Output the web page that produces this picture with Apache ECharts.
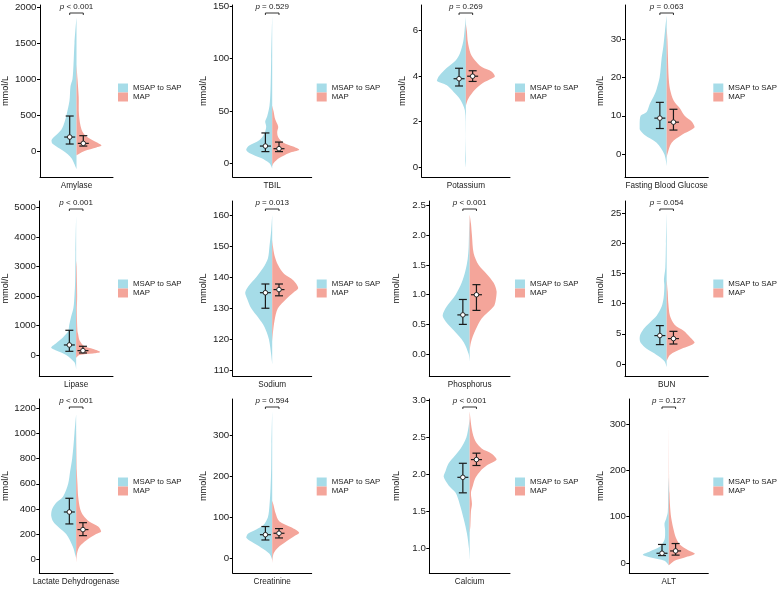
<!DOCTYPE html>
<html>
<head>
<meta charset="utf-8">
<script src="https://cdn.jsdelivr.net/npm/echarts@6/dist/echarts.min.js"></script>
<style>
  html, body { margin: 0; padding: 0; background: #fff; }
  #chart { width: 778px; height: 590px; }
</style>
</head>
<body>
<div id="chart"></div>
<script>
// Markers, groups and test results
const markers = ['Amylase', 'TBIL', 'Potassium', 'Fasting Blood Glucose',
                 'Lipase', 'Sodium', 'Phosphorus', 'BUN',
                 'Lactate Dehydrogenase', 'Creatinine', 'Calcium', 'ALT'];
const groups = ['MSAP to SAP', 'MAP'];
const pLabels = ['< 0.001', '= 0.529', '= 0.269', '= 0.063',
                 '< 0.001', '= 0.013', '< 0.001', '= 0.054',
                 '< 0.001', '= 0.594', '< 0.001', '= 0.127'];

// Y axis ranges and tick values
const yRange = [[-361, 2028], [-13, 151], [-0.43, 7.13], [-5.9, 38.8],
                [-712, 5214], [108.2, 164.5], [-0.37, 2.58], [-2, 27],
                [-109, 1274], [-37, 390], [0.665, 3.02], [-21.6, 354]];
const yTicks = [[0, 500, 1000, 1500, 2000], [0, 50, 100, 150], [0, 2, 4, 6], [0, 10, 20, 30],
                [0, 1000, 2000, 3000, 4000, 5000], [110, 120, 130, 140, 150, 160],
                [0, 0.5, 1, 1.5, 2, 2.5], [0, 5, 10, 15, 20, 25],
                [0, 200, 400, 600, 800, 1000, 1200], [0, 100, 200, 300],
                [1, 1.5, 2, 2.5, 3], [0, 100, 200, 300]];
const tickDecimals = [0, 0, 0, 0, 0, 0, 1, 0, 0, 0, 1, 0];

// median, Q1, Q3
const msapStats = [[194, 97, 486], [16.5, 11.2, 29], [3.89, 3.57, 4.35], [9.4, 6.7, 13.5],
                   [339, 124, 836], [135, 130, 137.8], [0.66, 0.5, 0.92], [4.7, 3.2, 6.35],
                   [376, 281, 485], [57, 44, 77], [1.96, 1.75, 2.15], [21, 16, 40]];
const mapStats = [[106, 69, 213], [14, 11.2, 20.3], [4.0, 3.77, 4.24], [8.35, 6.3, 11.7],
                  [147, 68, 294], [136, 134, 137.8], [1.0, 0.736, 1.17], [4.2, 3.3, 5.4],
                  [236, 188, 291], [60.5, 49, 72], [2.2, 2.12, 2.287], [26, 17, 42]];

// Violin density profiles: [value, density]
const msapDensity = [
  [[-250,0],[-100,5],[0,13],[100,24],[150,25],[200,22],[300,15],[400,12],[500,10],[700,7],[900,6],[1000,4],[1200,3],[1500,2],[1850,0]],
  [[-5,0],[0,2.7],[5,11],[10,23],[13,26],[17,23],[22,13],[28,8],[35,6],[40,7],[45,5],[55,2.7],[70,1.7],[100,1],[140,0]],
  [[0,0],[0.3,0.6],[0.8,0.3],[1.5,0.1],[2.5,1],[3.0,6],[3.3,12],[3.6,19],[3.8,29],[4.0,27],[4.2,23],[4.4,18],[4.7,10],[5.0,6],[5.5,2.7],[6.0,1.3],[6.6,0]],
  [[-3,0],[0,2.3],[3,10],[5,22],[6.5,27],[8,27],[10,26],[11,20],[13,17],[15,13],[17,10],[20,7],[25,5],[28,3.3],[32,1.7],[36,0]],
  [[-480,0],[-250,1.7],[0,10],[150,20],[250,25],[400,20],[600,13],[800,8],[1000,7],[1300,5],[1600,2.7],[2000,1.7],[2500,1],[3500,0.7],[4700,0]],
  [[112,0],[115,1],[120,3.3],[124,7.7],[127,14],[130,21],[133,25],[135,27],[137,24],[140,16],[143,9],[146,4.3],[150,2.7],[155,1],[160,0]],
  [[-0.12,0],[0,1],[0.2,6],[0.4,16],[0.55,24],[0.65,27],[0.8,23],[1.0,14],[1.2,8],[1.4,4.3],[1.6,2],[1.8,1],[2.0,0.7],[2.3,0]],
  [[-0.5,0],[0.5,2.3],[1.5,10],[2.5,20],[3.5,26],[4.2,27],[5,26],[6,22],[7,16],[8,10],[9.5,5],[11,3],[13,2.3],[14,2.7],[16,1.3],[20,0.7],[25,0]],
  [[10,0],[30,0.7],[100,3.3],[200,10],[250,17],[300,23],[350,25],[400,24],[450,20],[500,13],[600,8],[700,6],[800,4],[900,2.7],[1000,1.7],[1150,0]],
  [[-5,0],[10,2.7],[25,11],[40,21],[50,26],[60,24],[70,16],[80,9],[100,4.3],[130,2.7],[170,1.7],[220,1],[280,0.7],[360,0]],
  [[0.85,0],[1.0,0.7],[1.2,2.7],[1.4,6],[1.6,10],[1.75,14],[1.85,21],[1.97,26],[2.05,24],[2.15,21],[2.25,15],[2.35,9],[2.5,3.3],[2.65,1],[2.75,0]],
  [[-5,0],[5,4.3],[12,18],[18,26],[25,19],[35,9],[50,4.3],[70,3.7],[85,4.3],[95,2.7],[110,1],[150,0.7],[185,0]]
];
const mapDensity = [
  [[-60,0],[0,8],[50,20],[75,25],[120,20],[200,10],[300,5],[500,2.5],[750,2.2],[1000,1],[1200,0]],
  [[-3,0],[0,1.3],[5,7],[10,17],[13,27],[16,21],[20,11],[25,6],[30,5],[35,6],[42,3],[50,1.3],[55,0]],
  [[2.7,0],[3.0,2.3],[3.4,9],[3.7,17],[3.9,26],[4.0,29],[4.2,26],[4.4,16],[4.7,9],[5.0,4.7],[5.5,2],[6.0,1],[6.3,0]],
  [[-1,0],[0,0.7],[3,5],[5,15],[7,28],[8.5,25],[10,18],[12,13],[14,7],[17,3.3],[20,2],[25,1.3],[30,0.7],[33,0]],
  [[-100,0],[0,3.3],[50,17],[100,24],[200,17],[300,8],[500,3.3],[700,2],[800,1.3],[1500,0.7],[2000,1],[3000,0.5],[3200,0]],
  [[119,0],[122,0.7],[126,2.3],[130,5.7],[133,14],[135,21],[136.5,26],[139,21],[141,12],[144,5.7],[147,2.3],[150,0.7],[152,0]],
  [[0.05,0],[0.2,1.3],[0.4,5.7],[0.6,12],[0.8,24],[0.9,26],[1.05,27],[1.2,24],[1.35,17],[1.5,9],[1.7,4],[2.0,2.3],[2.2,1.3],[2.35,0]],
  [[0.5,0],[1.5,3.3],[2.5,15],[3.5,28],[4.5,23],[5.5,17],[6.5,8],[8,3.3],[10,1.7],[12,1],[14,0]],
  [[-30,0],[50,1],[100,3.3],[150,10],[200,20],[220,25],[260,22],[300,13],[350,7],[400,4],[500,2],[600,1.3],[700,0.7],[1050,0]],
  [[-15,0],[10,1.3],[25,5.7],[40,14],[55,23],[62,27],[75,19],[90,7],[110,3.3],[130,1.3],[140,0]],
  [[1.2,0],[1.3,0.7],[1.5,1.3],[1.6,2.3],[1.75,1.3],[1.85,3.3],[1.95,5.7],[2.05,11],[2.12,17],[2.2,27],[2.28,22],[2.35,12],[2.45,5.7],[2.6,2.3],[2.85,0]],
  [[-5,0],[5,5.7],[12,16],[20,26],[28,19],[40,11],[55,7],[70,5],[90,3],[110,1.7],[150,0.7],[330,0]]
];

// Layout of the 3 x 4 panels (pixels)
const rowTop = [5, 201, 399];
const rowHeight = [172, 175, 174];
const panelLeft = [40, 232.7, 421.7, 625, 39.3, 232.7, 429.3, 625, 39.3, 232.7, 429.3, 629.3];
const colRight = [113, 311.7, 510, 708.3];
const titleX = [5.7, 203.3, 402.7, 600, 5.7, 203.3, 396.7, 600, 5.7, 203.3, 396.7, 600];

const font = '"Liberation Sans", Arial, Helvetica, sans-serif';
const colors = ['#a6dce8', '#f4a59a'];
const dodge = 6.8;

const grid = [], xAxis = [], yAxis = [], series = [], legend = [];

markers.forEach(function (name, i) {
  const r = Math.floor(i / 4), c = i % 4;
  const left = panelLeft[i], w = colRight[c] - left;

  grid.push({ left: left, top: rowTop[r], width: w, height: rowHeight[r] });

  // hidden value axis for violin width / dodge
  xAxis.push({ type: 'value', gridIndex: i, min: -w / 2, max: w / 2, show: false, position: 'top' });
  // visible category axis
  xAxis.push({
    type: 'category', gridIndex: i, data: [name], boundaryGap: true, position: 'bottom',
    axisLine: { onZero: false, lineStyle: { color: '#000', width: 1 } },
    axisTick: { alignWithLabel: true, length: 3, lineStyle: { color: '#000' } },
    axisLabel: { color: '#222', fontSize: 8.2, margin: 5, fontFamily: font },
    splitLine: { show: false }
  });

  yAxis.push({
    type: 'value', gridIndex: i, min: yRange[i][0], max: yRange[i][1],
    name: 'mmol/L', nameLocation: 'middle', nameGap: left - titleX[i] - 4.5,
    nameTextStyle: { fontSize: 9.2, color: '#111', fontFamily: font },
    axisLine: { show: true, onZero: false, lineStyle: { color: '#000', width: 1 } },
    axisTick: { show: true, length: 3, customValues: yTicks[i], lineStyle: { color: '#000' } },
    axisLabel: {
      customValues: yTicks[i], fontSize: 9.7, margin: 3.5, color: '#222', fontFamily: font,
      formatter: function (v) { return Number(v).toFixed(tickDecimals[i]); }
    },
    splitLine: { show: false }
  });

  // split violin halves
  [msapDensity, mapDensity].forEach(function (dens, g) {
    series.push({
      type: 'custom', name: groups[g], xAxisIndex: 2 * i, yAxisIndex: i, silent: true,
      itemStyle: { color: colors[g] },
      data: [[0, dens[i][0][0]]],
      renderItem: function (params, api) {
        const side = g ? 1 : -1;
        const pts = dens[i].map(function (p) { return api.coord([side * p[1], p[0]]); });
        let mn = [Infinity, Infinity], mx = [-Infinity, -Infinity];
        pts.forEach(function (p) {
          mn = [Math.min(mn[0], p[0]), Math.min(mn[1], p[1])];
          mx = [Math.max(mx[0], p[0]), Math.max(mx[1], p[1])];
        });
        return {
          type: 'polygon',
          shape: { points: pts, smooth: 0.3, smoothConstraint: [mn, mx] },
          style: { fill: colors[g] }
        };
      }
    });
  });

  // median + IQR error bars
  series.push({
    type: 'custom', name: 'IQR', xAxisIndex: 2 * i, yAxisIndex: i, silent: true, z: 3,
    data: [[-dodge].concat(msapStats[i]), [dodge].concat(mapStats[i])],
    renderItem: function (params, api) {
      const x = api.value(0);
      const pm = api.coord([x, api.value(1)]);
      const p1 = api.coord([x, api.value(2)]);
      const p3 = api.coord([x, api.value(3)]);
      const ls = { stroke: '#1a1a1a', lineWidth: 1.2 };
      return {
        type: 'group', children: [
          { type: 'line', shape: { x1: p1[0], y1: p1[1], x2: p3[0], y2: p3[1] }, style: ls },
          { type: 'line', shape: { x1: p1[0] - 4, y1: p1[1], x2: p1[0] + 4, y2: p1[1] }, style: ls },
          { type: 'line', shape: { x1: p3[0] - 4, y1: p3[1], x2: p3[0] + 4, y2: p3[1] }, style: ls },
          { type: 'line', shape: { x1: pm[0] - 5.5, y1: pm[1], x2: pm[0] + 5.5, y2: pm[1] }, style: ls },
          { type: 'circle', shape: { cx: pm[0], cy: pm[1], r: 2.3 }, style: { fill: '#fff', stroke: '#1a1a1a', lineWidth: 0.9 } }
        ]
      };
    }
  });

  // p value bracket
  series.push({
    type: 'custom', name: 'pval', xAxisIndex: 2 * i, yAxisIndex: i, silent: true, z: 4,
    data: [[0, yRange[i][1]]],
    renderItem: function (params, api) {
      const top = params.coordSys.y;
      const xl = api.coord([-dodge, yRange[i][1]])[0];
      const xr = api.coord([dodge, yRange[i][1]])[0];
      const xc = api.coord([0, yRange[i][1]])[0];
      const by = top + 8;
      return {
        type: 'group', children: [
          { type: 'polyline', shape: { points: [[xl, by + 2], [xl, by], [xr, by], [xr, by + 2]] },
            style: { stroke: '#000', lineWidth: 0.8, fill: null } },
          { type: 'text', x: xc, y: top + 1.5,
            style: {
              text: '{i|p} ' + pLabels[i],
              rich: { i: { fontStyle: 'italic', fontSize: 8, fontFamily: font, fill: '#222' } },
              fontSize: 8, fontFamily: font, fill: '#222', align: 'center', verticalAlign: 'middle'
            } }
        ]
      };
    }
  });

  legend.push({
    data: groups, orient: 'vertical', left: colRight[c] + 5, top: rowTop[r] + 78.5,
    itemGap: 0, itemWidth: 10, itemHeight: 9, icon: 'rect', padding: 0, selectedMode: false,
    textStyle: { fontSize: 7.8, lineHeight: 9, color: '#222', fontFamily: font }
  });
});

const chart = echarts.init(document.getElementById('chart'));
chart.setOption({
  animation: false,
  backgroundColor: '#fff',
  grid: grid,
  xAxis: xAxis,
  yAxis: yAxis,
  legend: legend,
  series: series
});
</script>
</body>
</html>
